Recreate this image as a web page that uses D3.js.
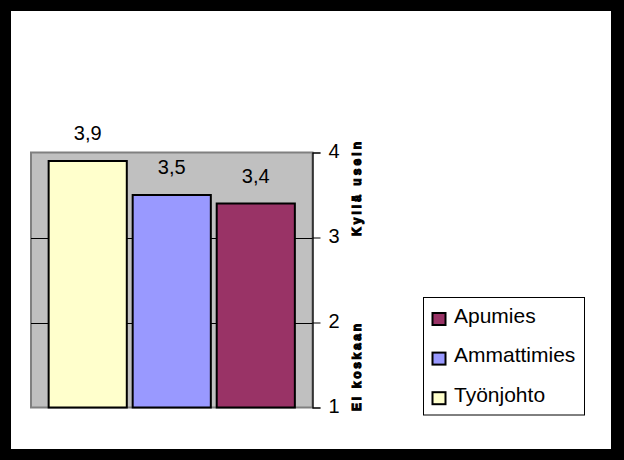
<!DOCTYPE html>
<html>
<head>
<meta charset="utf-8">
<script src="https://cdn.jsdelivr.net/npm/d3@7/dist/d3.min.js"></script>
<style>
  html, body { margin: 0; padding: 0; background: #000; }
  svg { display: block; }
  text { font-family: Arial, "Liberation Sans", sans-serif; }
</style>
</head>
<body>
<script>
// ---- data ----
const series = ["Työnjohto", "Ammattimies", "Apumies"];
const values = [3.9, 3.5, 3.4];
const valueLabels = ["3,9", "3,5", "3,4"];
const colors = ["#FFFFCC", "#9999FF", "#993366"];
const legendOrder = ["Apumies", "Ammattimies", "Työnjohto"];
const yTicks = [1, 2, 3, 4];
const yTopLabel = "Kyllä usein";
const yBottomLabel = "Ei koskaan";

const W = 624, H = 460;
const svg = d3.select("body").append("svg").attr("width", W).attr("height", H);

// frame
svg.append("rect").attr("x", 0).attr("y", 0).attr("width", W).attr("height", H).attr("fill", "#000");
svg.append("rect").attr("x", 11).attr("y", 11).attr("width", 600).attr("height", 438).attr("fill", "#fff");

const plot = { left: 31, right: 312.5, top: 152.5, bottom: 407.5 };

const x = d3.scaleBand().domain(series).range([plot.left, plot.right]).paddingInner(0.07).paddingOuter(0.21);
const y = d3.scaleLinear().domain([1, 4]).range([plot.bottom, plot.top]);

// plot area
svg.append("rect")
  .attr("x", plot.left).attr("y", plot.top)
  .attr("width", plot.right - plot.left).attr("height", plot.bottom - plot.top)
  .attr("fill", "#C0C0C0").attr("stroke", "#808080").attr("stroke-width", 2);

// gridlines
svg.append("g").selectAll("line").data(yTicks.filter(d => d > 1 && d < 4)).join("line")
  .attr("x1", plot.left).attr("x2", plot.right)
  .attr("y1", d => Math.round(y(d)) + 0.5).attr("y2", d => Math.round(y(d)) + 0.5)
  .attr("stroke", "#000").attr("stroke-width", 1);

// bars
svg.append("g").selectAll("rect").data(series).join("rect")
  .attr("x", d => x(d)).attr("width", x.bandwidth())
  .attr("y", (d, i) => y(values[i])).attr("height", (d, i) => y(1) - y(values[i]))
  .attr("fill", (d, i) => colors[i]).attr("stroke", "#000").attr("stroke-width", 2);

// value labels
svg.append("g").selectAll("text").data(series).join("text")
  .attr("x", d => x(d) + x.bandwidth() / 2)
  .attr("y", (d, i) => y(values[i]) - 21)
  .attr("text-anchor", "middle").attr("font-size", 20).attr("fill", "#000")
  .text((d, i) => valueLabels[i]);

// right axis
const axis = d3.axisRight(y).tickValues(yTicks).tickSize(8).tickPadding(8).tickFormat(d3.format("d"));
const ag = svg.append("g").attr("transform", `translate(${plot.right},0)`).call(axis);
ag.select(".domain").attr("stroke", "#000").attr("stroke-width", 1.2);
ag.selectAll(".tick line").attr("stroke", "#000");
ag.selectAll(".tick text").attr("font-size", 20).attr("fill", "#000")
  .attr("font-family", "Arial, 'Liberation Sans', sans-serif").attr("dy", "0.23em");

// rotated end labels
function rotLabel(txt, cx, cy, len) {
  svg.append("text")
    .attr("transform", `translate(${cx},${cy}) rotate(-90)`)
    .attr("text-anchor", "middle").attr("dy", "0.38em")
    .attr("font-size", 12).attr("font-weight", "bold").attr("fill", "#000")
    .attr("stroke", "#000").attr("stroke-width", 1.1)
    .attr("textLength", len).attr("lengthAdjust", "spacing")
    .text(txt);
}
rotLabel(yTopLabel, 356.5, 189, 94);
rotLabel(yBottomLabel, 356.5, 367.5, 87);

// legend
const lg = svg.append("g");
lg.append("rect").attr("x", 423.5).attr("y", 297.5).attr("width", 161).attr("height", 117.5)
  .attr("fill", "#fff").attr("stroke", "#000").attr("stroke-width", 1);
const rows = lg.selectAll("g").data(legendOrder).join("g")
  .attr("transform", (d, i) => `translate(0,${322.5 + i * 39.6})`);
rows.append("rect").attr("x", 432.5).attr("y", -9.5).attr("width", 13).attr("height", 12)
  .attr("fill", d => colors[series.indexOf(d)]).attr("stroke", "#000").attr("stroke-width", 2);
rows.append("text").attr("x", 454).attr("y", 0).attr("font-size", 21).attr("fill", "#000").text(d => d);
</script>
</body>
</html>
